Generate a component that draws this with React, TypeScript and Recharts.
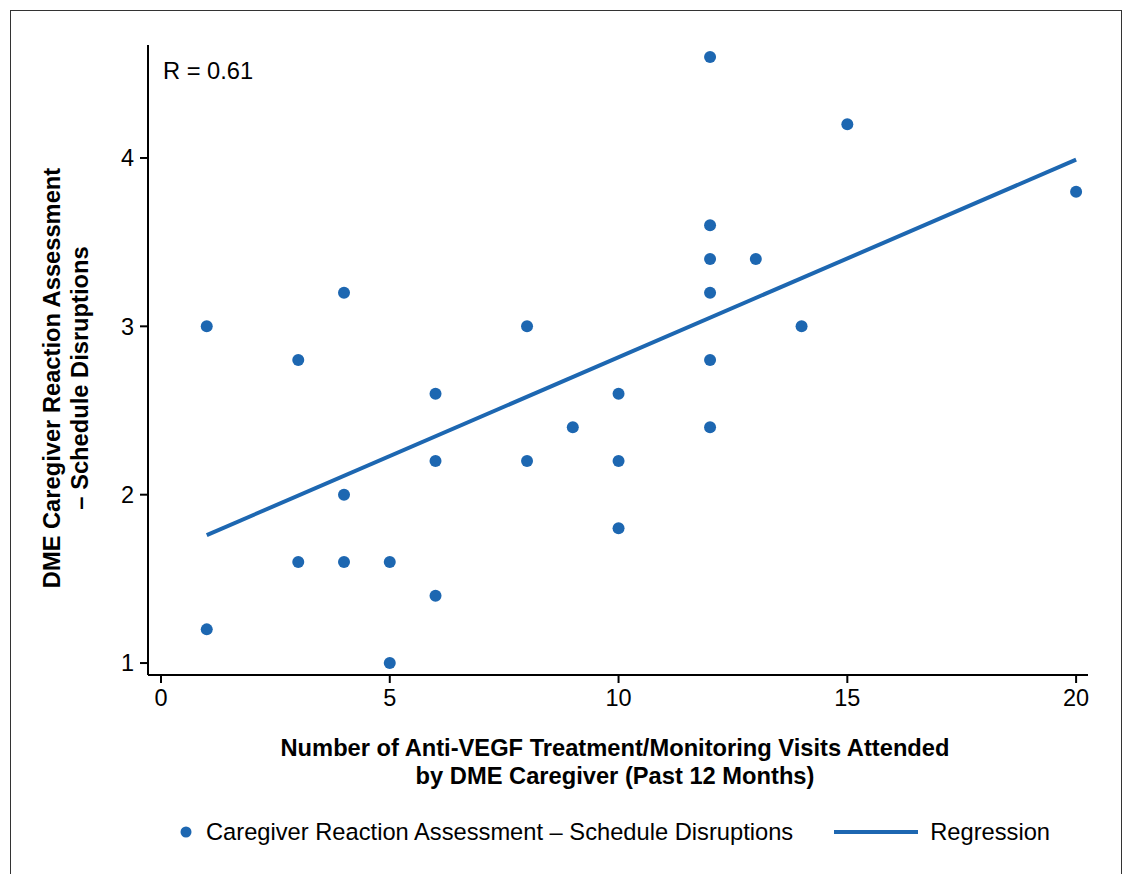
import React from "react";
import { ComposedChart, XAxis, YAxis, Scatter, Line, Legend, Customized } from "recharts";

const visits = [1, 1, 3, 3, 4, 4, 4, 5, 5, 6, 6, 6, 8, 8, 9, 10, 10, 10, 12, 12, 12, 12, 12, 12, 13, 14, 15, 20];
const disruptions = [3.0, 1.2, 2.8, 1.6, 3.2, 2.0, 1.6, 1.6, 1.0, 2.6, 2.2, 1.4, 3.0, 2.2, 2.4, 2.6, 2.2, 1.8, 4.6, 3.6, 3.4, 3.2, 2.8, 2.4, 3.4, 3.0, 4.2, 3.8];
const regressionX = [1, 20];
const regressionY = [1.76, 3.99];
const xTicks = [0, 5, 10, 15, 20];
const yTicks = [1, 2, 3, 4];
const rLabel = "R = 0.61";
const scatterName = "Caregiver Reaction Assessment \u2013 Schedule Disruptions";
const lineName = "Regression";

const BLUE = "#1d67b1";
const FONT = "'Liberation Sans', Arial, Helvetica, sans-serif";
const FS = 23.5;
const TFS = 23.7;

const scatterData = visits.map((x, i) => ({ x, y: disruptions[i] }));
const regData = regressionX.map((x, i) => ({ x, y: regressionY[i] }));

const LegendContent = () => (
  <div style={{ display: "flex", alignItems: "center", fontFamily: FONT, fontSize: TFS, color: "#000", height: 26, lineHeight: "26px" }}>
    <svg width={12} height={12} style={{ marginLeft: 180, marginRight: 14 }}>
      <circle cx={6} cy={6} r={5.5} fill={BLUE} />
    </svg>
    <span>{scatterName}</span>
    <svg width={84} height={6} style={{ marginLeft: 41, marginRight: 12 }}>
      <rect x={0} y={1} width={84} height={4} fill={BLUE} />
    </svg>
    <span>{lineName}</span>
  </div>
);

export default function App() {
  return (
    <div style={{ position: "absolute", left: 0, top: 0, width: 1126, height: 874, overflow: "hidden", background: "#fff" }}>
      <div style={{ position: "absolute", left: 10, top: 10, width: 1112, height: 900, border: "1.5px solid #333", boxSizing: "border-box" }} />
      <div style={{ position: "absolute", left: 0, top: 0 }}>
        <ComposedChart
          width={1126}
          height={874}
          margin={{ left: 88, right: 38, top: 45, bottom: 113 }}
          style={{ fontFamily: FONT }}
        >
          <XAxis
            type="number"
            dataKey="x"
            domain={[-0.284, 20.26]}
            ticks={xTicks}
            allowDataOverflow
            height={60}
            tickSize={8}
            tick={{ fill: "#000", fontSize: FS, fontFamily: FONT }}
            tickMargin={6}
            axisLine={{ stroke: "#000", strokeWidth: 2 }}
            tickLine={{ stroke: "#000", strokeWidth: 2 }}
          />
          <YAxis
            type="number"
            dataKey="y"
            domain={[0.929, 4.671]}
            ticks={yTicks}
            allowDataOverflow
            width={60}
            tickSize={8}
            tick={{ fill: "#000", fontSize: FS, fontFamily: FONT }}
            tickMargin={6}
            axisLine={{ stroke: "#000", strokeWidth: 2 }}
            tickLine={{ stroke: "#000", strokeWidth: 2 }}
          />
          <Scatter name={scatterName} data={scatterData} fill={BLUE} shape={(p: any) => <circle cx={p.cx} cy={p.cy} r={6} fill={BLUE} />} isAnimationActive={false} />
          <Line name={lineName} data={regData} dataKey="y" type="linear" stroke={BLUE} strokeWidth={4} dot={false} activeDot={false} isAnimationActive={false} legendType="line" />
          <Legend content={<LegendContent />} wrapperStyle={{ position: "absolute", left: 0, top: 819, width: 1126, height: 26 }} />
          <Customized
            component={() => (
              <g fontFamily={FONT} fill="#000">
                <text x={163} y={79} fontSize={TFS}>{rLabel}</text>
                <text x={615} y={756} fontSize={TFS} fontWeight="bold" textAnchor="middle">Number of Anti-VEGF Treatment/Monitoring Visits Attended</text>
                <text x={615} y={784} fontSize={TFS} fontWeight="bold" textAnchor="middle">by DME Caregiver (Past 12 Months)</text>
                <g transform="translate(60,378) rotate(-90)">
                  <text x={0} y={0} fontSize={TFS} fontWeight="bold" textAnchor="middle">DME Caregiver Reaction Assessment</text>
                  <text x={0} y={28} fontSize={TFS} fontWeight="bold" textAnchor="middle">{"\u2013 Schedule Disruptions"}</text>
                </g>
              </g>
            )}
          />
        </ComposedChart>
      </div>
    </div>
  );
}
